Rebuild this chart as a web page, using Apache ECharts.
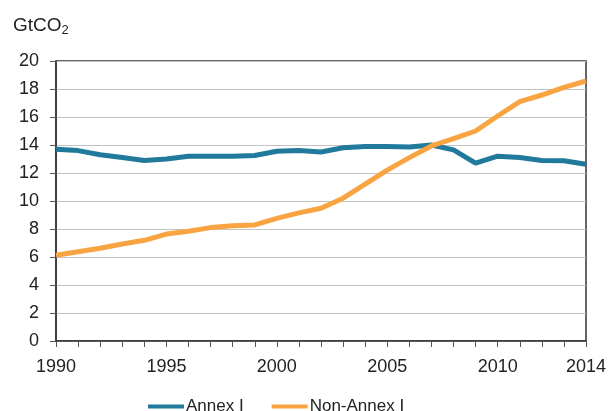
<!DOCTYPE html>
<html>
<head>
<meta charset="utf-8">
<script src="https://cdn.jsdelivr.net/npm/echarts@6/dist/echarts.min.js"></script>
<style>
  html, body { margin: 0; padding: 0; background: #fff; }
  #chart { width: 611px; height: 411px; }
</style>
</head>
<body>
<div id="chart"></div>
<script>
var years = [];
for (var y = 1990; y <= 2014; y++) years.push(String(y));

var annexI = [13.7, 13.6, 13.3, 13.1, 12.9, 13.0, 13.2, 13.2, 13.2, 13.25, 13.55, 13.6, 13.5,
              13.8, 13.9, 13.9, 13.85, 14.0, 13.65, 12.7, 13.2, 13.1, 12.9, 12.87, 12.62];
var nonAnnexI = [6.12, 6.38, 6.62, 6.93, 7.19, 7.64, 7.84, 8.1, 8.24, 8.29, 8.76, 9.15, 9.48,
                 10.2, 11.2, 12.2, 13.1, 13.93, 14.45, 15.0, 16.07, 17.1, 17.57, 18.12, 18.57];

var seriesNames = ['Annex I', 'Non-Annex I'];
var colors = ['#217a9b', '#f9a443'];
var labelYears = ['1990', '1995', '2000', '2005', '2010', '2014'];

var chart = echarts.init(document.getElementById('chart'));

var option = {
    animation: false,
    title: {
        text: '{a|GtCO}{b|2}',
        left: 8,
        top: 10,
        textStyle: {
            rich: {
                a: { fontFamily: 'Liberation Sans', fontSize: 19, fontWeight: 'normal', color: '#222' },
                b: { fontFamily: 'Liberation Sans', fontSize: 13, fontWeight: 'normal', color: '#222', padding: [9, 0, 0, 0] }
            }
        }
    },
    legend: {
        top: 393,
        left: 143,
        itemWidth: 36,
        itemHeight: 4,
        itemGap: 28,
        icon: 'rect',
        textStyle: { fontFamily: 'Liberation Sans', fontSize: 17, color: '#222', padding: [0, 0, 0, -3] },
        data: seriesNames
    },
    grid: {
        left: 56,
        right: 25,
        top: 61,
        bottom: 70,
        show: true,
        borderColor: '#333',
        borderWidth: 1.5
    },
    xAxis: {
        type: 'category',
        boundaryGap: false,
        data: years,
        axisLine: { lineStyle: { color: '#333', width: 1.5 } },
        axisTick: { show: true, interval: 0, length: 6, lineStyle: { color: '#555' } },
        axisLabel: {
            interval: function (i, v) { return labelYears.indexOf(v) >= 0; },
            fontFamily: 'Liberation Sans',
            fontSize: 18,
            color: '#222',
            margin: 17
        },
        splitLine: { show: false }
    },
    yAxis: {
        type: 'value',
        min: 0,
        max: 20,
        interval: 2,
        axisLine: { show: true, lineStyle: { color: '#333', width: 1.5 } },
        axisTick: { show: true, length: 6, lineStyle: { color: '#555' } },
        axisLabel: { fontFamily: 'Liberation Sans', fontSize: 18, color: '#222', margin: 17 },
        splitLine: { lineStyle: { color: '#c4c4c4', width: 1 } }
    },
    series: [
        {
            name: seriesNames[0],
            type: 'line',
            data: annexI,
            symbol: 'none',
            lineStyle: { color: colors[0], width: 5 },
            itemStyle: { color: colors[0] }
        },
        {
            name: seriesNames[1],
            type: 'line',
            data: nonAnnexI,
            symbol: 'none',
            lineStyle: { color: colors[1], width: 5 },
            itemStyle: { color: colors[1] }
        }
    ]
};
chart.setOption(option);
</script>
</body>
</html>
